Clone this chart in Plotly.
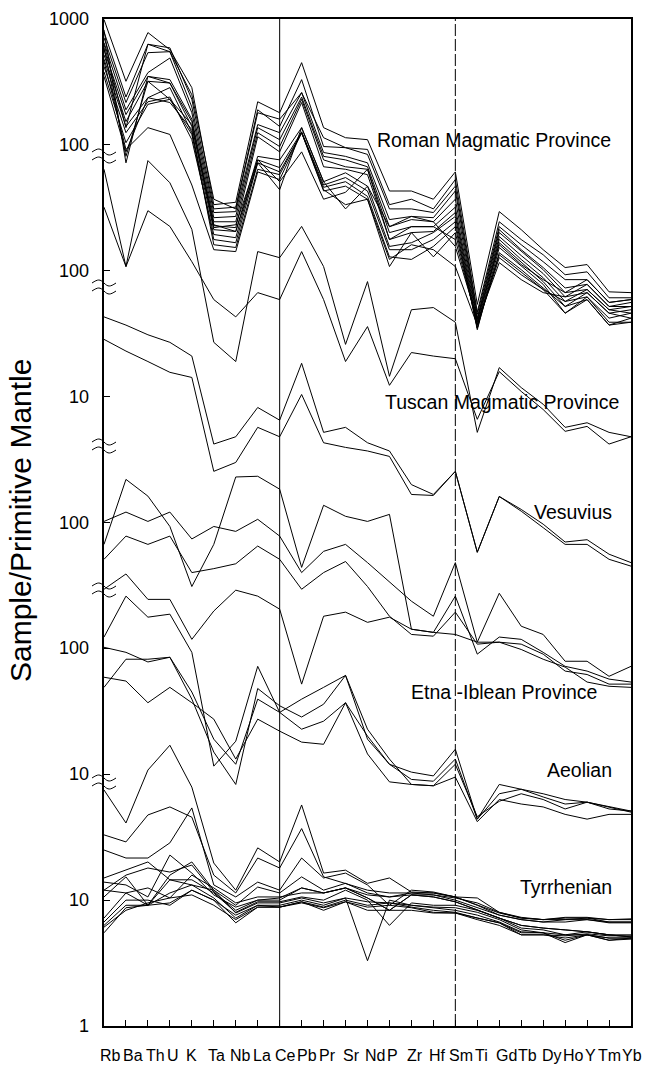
import plotly.graph_objects as go

elements = ["Rb", "Ba", "Th", "U", "K", "Ta", "Nb", "La", "Ce", "Pb", "Pr", "Sr", "Nd",
            "P", "Zr", "Hf", "Sm", "Ti", "Gd", "Tb", "Dy", "Ho", "Y", "Tm", "Yb"]

# sample / primitive mantle values, one list per sample
roman = [
    [990, 320, 780, 570, 285, 33.5, 35, 220, 180, 450, 137, 114, 110, 43, 43, 37, 61, 5.4, 29.5, 21.2, 14.7, 10.6, 11.2, 6.8, 6.7],
    [790, 240, 630, 590, 230, 31, 32, 190, 140, 330, 97, 95, 84, 31, 31, 29, 47, 4.5, 22.4, 16.1, 11.8, 8.5, 8.5, 5.6, 5.9],
    [710, 217, 540, 550, 200, 29, 29.5, 145, 125, 260, 87, 81, 72, 25.5, 27, 26.4, 43, 4.2, 21.2, 14.7, 10.6, 7.3, 7.8, 5.2, 5.6],
    [650, 190, 375, 490, 180, 26.4, 27, 137, 110, 240, 81, 76, 67, 22.4, 25.5, 24.5, 37, 4.1, 20.1, 14.2, 10.2, 6.7, 7.1, 4.9, 5.2],
    [570, 174, 350, 330, 160, 24.5, 24.5, 125, 97, 230, 76, 67, 64, 20.1, 22.4, 22.4, 32, 3.9, 18.7, 13.2, 9.5, 6.2, 6.7, 4.6, 4.9],
    [520, 153, 320, 310, 140, 22.8, 22, 116, 88, 217, 67, 64, 58, 17.7, 20.1, 20.5, 29, 3.7, 17.7, 12.3, 8.8, 5.7, 6.2, 4.2, 4.6],
    [480, 140, 237, 285, 125, 21.2, 20.5, 81, 76, 137, 51, 60, 47, 15.6, 16.7, 20.1, 27, 3.5, 16.7, 11.8, 8.2, 5.2, 5.9, 3.7, 4.2],
    [420, 125, 220, 240, 110, 19.4, 18.3, 76, 66, 127, 48, 55, 43, 14.7, 14.7, 17.7, 24.5, 3.4, 15.3, 11.0, 7.8, 4.6, 6.2, 3.9, 3.9],
    [380, 104, 210, 230, 121, 17.7, 16.7, 72, 61, 125, 46, 51, 39, 12.9, 12.3, 15.6, 22.4, 3.5, 13.9, 10.2, 7.3, 5.2, 6.7, 4.6, 4.2],
    [350, 88, 237, 217, 132, 16.1, 15.3, 64, 58, 125, 43, 47, 37, 10.8, 20.1, 12.9, 20.1, 3.7, 12.7, 9.3, 7.1, 5.7, 7.1, 4.9, 4.6],
    [590, 81, 320, 230, 145, 22, 23.2, 76, 51, 88, 37, 42, 64, 17.7, 22.4, 22.4, 17.7, 3.9, 11.6, 8.5, 6.7, 6.2, 7.8, 5.2, 5.2],
    [820, 72, 350, 310, 153, 23.2, 20.5, 72, 44, 137, 51, 31, 47, 22.4, 27, 24.5, 15.6, 4.1, 16.1, 11.2, 8.5, 6.7, 8.5, 5.6, 5.9],
    [460, 92, 137, 121, 48, 14.7, 14.2, 61, 53, 125, 44, 33.5, 37, 12.3, 16.1, 14.7, 10.8, 3.7, 13.4, 9.8, 7.1, 4.6, 5.9, 3.7, 3.9],
    [630, 137, 630, 550, 250, 37, 31, 180, 160, 260, 114, 95, 92, 33.5, 37, 31, 53, 4.7, 24.5, 17.7, 13.4, 9.3, 9.8, 6.1, 6.1],
]

tuscan = [
    [640, 108, 750, 500, 213, 27, 19, 142, 127, 225, 108, 26, 82, 14.5, 49, 51, 39, 5.2, 17, 11.8, 8.7, 5.7, 6.2, 5.2, 4.8],
    [320, 108, 300, 225, 118, 59, 43, 67, 59, 142, 59, 19, 36, 12.3, 22.4, 21, 20, 6.6, 15.8, 11, 7.9, 5.3, 5.8, 4.2, 4.8],
]

vesuvius = [
    [430, 370, 310, 270, 210, 42, 48, 82, 65, 184, 52, 57, 43, 37, 20, 16.7, 25.5, 5.8, 16.1, 12.7, 9.7, 7, 7.3, 5.6, 4.8],
    [285, 230, 190, 156, 142, 25.5, 30, 57, 48, 104, 43, 39.5, 37, 33.5, 16.7, 16.4, 25.5, 5.8, 16.1, 12.3, 9.1, 6.7, 6.7, 5.1, 4.5],
]

etna = [
    [102, 121, 102, 121, 74, 93, 85, 106, 78, 40, 59, 67, 48, 34, 23.7, 18, 48, 11.2, 27.4, 15, 12.9, 7.9, 7.9, 6, 7.2],
    [67, 220, 162, 93, 31, 67, 230, 233, 184, 44, 137, 112, 102, 116, 14.2, 13.4, 26, 9, 12.3, 11.8, 9.3, 7.2, 6.6, 5.7, 5.4],
    [51, 78, 67, 78, 40, 43, 47, 65, 51, 29.5, 40, 49, 31, 18, 12.9, 12.5, 19.4, 10.8, 11.2, 10.8, 9, 6.6, 6.2, 5.2, 5.2],
    [29.5, 39, 24.5, 24.5, 11.8, 19.8, 29, 26, 20.5, 5.2, 18, 19.4, 16.1, 17.7, 14.2, 13.4, 12.9, 11.2, 11.2, 9.8, 8.2, 7.1, 5.4, 5, 4.9],
]

aeolian = [
    [123, 260, 177, 187, 93, 11.6, 18.3, 72, 31, 22.8, 26.4, 37, 20.1, 12.0, 10.4, 9.7, 15.8, 4.4, 8.3, 7.6, 6.6, 5.8, 6.0, 5.5, 5.1],
    [102, 93, 78, 85, 39.5, 15, 8.3, 48, 35, 28.5, 36, 61, 22.8, 13.2, 8.3, 8.1, 12, 4.6, 6.1, 7, 6.3, 5.3, 6, 5.5, 5],
    [59, 55, 37, 49, 37, 27.4, 13.2, 27.4, 22, 18, 17.3, 37, 14.5, 8.7, 8.3, 8.1, 9.5, 4.2, 6.3, 5.8, 5.5, 4.8, 4.4, 4.8, 4.8],
    [49, 82, 82, 85, 45, 19, 12, 39.5, 31, 39.5, 49, 61, 19, 12, 9.1, 8.8, 13.2, 4.4, 7, 7.6, 7, 6.3, 6, 5.3, 5.1],
]

tyrrhenian = [
    [75, 41, 108, 170, 79, 19.7, 12, 26, 20.1, 57, 16.4, 17.3, 13.6, 15, 11.6, 11.4, 10.6, 10.4, 8, 7.3, 7, 7.2, 7.2, 7, 7],
    [33, 29, 47.5, 55, 45.6, 15.8, 11.4, 21.6, 18, 37, 15.3, 13.6, 12, 11.4, 11.4, 11, 10.4, 9.5, 8, 7.2, 7, 7, 7.2, 6.7, 6.7],
    [25, 21.6, 21.6, 28.5, 54, 13.2, 10.6, 13.9, 12, 21.6, 15, 16.4, 13.2, 9.1, 12, 11.6, 10.6, 9.1, 7.6, 7, 6.7, 6.7, 7, 6.6, 6.6],
    [15, 17.3, 20.1, 14.5, 13.2, 12, 9.1, 12.7, 11.4, 15.3, 12, 13.6, 11.4, 10.6, 11, 11, 10, 8.7, 7.6, 7, 6.7, 7, 7, 6.7, 6.7],
    [13.9, 13.2, 10.6, 22.8, 16.4, 11, 8.8, 10, 10.4, 12.5, 11.4, 12.5, 10.4, 8.3, 11, 10.6, 9.7, 8.3, 7.2, 6.3, 6, 5.8, 5.6, 5.3, 5.1],
    [12, 15.8, 18, 16.7, 19, 11.6, 8.3, 10, 10, 12.5, 11.4, 12.5, 10.4, 8.3, 11, 10.6, 9.7, 8.3, 7.2, 6.3, 6, 5.8, 5.6, 5.3, 5.1],
    [10.6, 15.3, 9.1, 14.5, 14.5, 11.4, 8, 9.7, 9.7, 10.6, 10, 12, 10, 6.3, 9.5, 9.1, 9.1, 8.3, 7.2, 6, 5.8, 5.3, 5.3, 5, 5],
    [7.2, 11.4, 9.1, 15.8, 20.1, 12, 7.9, 9.5, 9.5, 10.4, 9.5, 10.4, 3.3, 10, 9.1, 8.8, 8.7, 8, 7, 5.8, 5.5, 4.8, 5.3, 4.8, 5],
    [6.7, 10, 10, 9.1, 12, 10, 7.6, 9.1, 9.1, 10, 9.1, 10.4, 9.7, 9.5, 9.1, 8.7, 8.3, 7.6, 6.7, 5.6, 5.5, 4.6, 5.3, 4.8, 4.9],
    [6.3, 9.1, 9.1, 11.4, 13.2, 10.4, 7.2, 9.1, 8.8, 9.7, 8.8, 10, 9.1, 9.5, 8.8, 8.3, 8, 7.2, 6.6, 5.3, 5.3, 5, 5.3, 5, 5],
    [6.1, 8.3, 9.5, 10.4, 11, 9.1, 7, 8.8, 8.8, 9.5, 8.7, 9.7, 8.8, 9.1, 8.7, 8, 7.9, 7.2, 6.6, 5.5, 5.5, 5.3, 5.6, 5.3, 5.3],
    [5.5, 8.7, 9.1, 9.5, 12, 10, 6.6, 8.8, 8.8, 9.7, 8.3, 9.7, 8.3, 8.3, 8.3, 7.9, 7.9, 7, 6.3, 5.3, 5.3, 5.2, 5.4, 5.2, 5.2],
    [12, 11.4, 12.5, 10.4, 15.8, 12.5, 9.5, 10.6, 10.6, 11.4, 11.4, 12.5, 11, 10.6, 11.4, 11.4, 10.6, 9.1, 7.9, 7.2, 7, 7.3, 7.3, 7, 7.1],
]

# each group is shifted up by one decade on the stacked log axis
group_names = ["Roman Magmatic Province", "Tuscan Magmatic Province", "Vesuvius",
               "Etna -Iblean Province", "Aeolian", "Tyrrhenian"]
group_data = [roman, tuscan, vesuvius, etna, aeolian, tyrrhenian]
group_offset = [1e5, 1e4, 1e3, 1e2, 1e1, 1]

# axis tick labels for decades 10^0 ... 10^8 of the stacked axis
ytick_text = ["1", "10", "10", "100", "100", "10", "100", "100", "1000"]

FONT = "Liberation Sans, Arial, Helvetica, sans-serif"
W, H = 647, 1067
L, R, T, B = 104, 16, 19, 41
PW, PH = W - L - R, H - T - B

def py2paper(py):
    return (H - B - py) / PH

def px2paper(px):
    return (px - L) / PW

fig = go.Figure()
xs = list(range(len(elements)))
for lines, off in zip(group_data, group_offset):
    for vals in lines:
        fig.add_trace(go.Scatter(
            x=xs, y=[v * off for v in vals], mode="lines",
            line=dict(color="black", width=1), showlegend=False, hoverinfo="skip"))

annotations = []
for k, t in enumerate(ytick_text):
    annotations.append(dict(x=0, y=k / 8, xref="paper", yref="paper", text=t,
                            showarrow=False, xanchor="right", yanchor="middle",
                            xshift=-13, font=dict(family=FONT, size=18, color="black")))
label_shift = [6, 7, 8, 3, 0, 3, 5, 4, 6, 5, 4, 6, 7, 3, 4, 4, 6, 4, 7, 6, 9, 8, 3, 0, 1]
for i, (el, sh) in enumerate(zip(elements, label_shift)):
    annotations.append(dict(x=i, y=py2paper(1055), xref="x", yref="paper", text=el,
                            showarrow=False, xanchor="center", yanchor="middle",
                            xshift=sh, font=dict(family=FONT, size=16, color="black")))
label_pos = [(613, 140), (621, 402), (614, 512), (599, 692), (614, 770), (614, 887)]
for name, (px, py) in zip(group_names, label_pos):
    annotations.append(dict(x=px2paper(px), y=py2paper(py), xref="paper", yref="paper",
                            text=name, showarrow=False, xanchor="right", yanchor="middle",
                            font=dict(family=FONT, size=19.5, color="black")))
annotations.append(dict(x=px2paper(20), y=py2paper(521), xref="paper", yref="paper",
                        text="Sample/Primitive Mantle", textangle=-90, showarrow=False,
                        xanchor="center", yanchor="middle",
                        font=dict(family=FONT, size=30, color="black")))

shapes = []
shapes.append(dict(type="line", xref="x", yref="paper", x0=8, x1=8, y0=0, y1=1,
                   line=dict(color="black", width=1)))
shapes.append(dict(type="line", xref="x", yref="paper", x0=16, x1=16, y0=0, y1=1,
                   line=dict(color="black", width=1, dash="12px,3px")))
for py in [156, 287, 446, 590, 782]:
    for dy in (-4, 4):
        path = "M -12,{a} C -6,{b} -4,{b} 0,{a} C 4,{c} 6,{c} 12,{a}".format(
            a=dy, b=dy + 4, c=dy - 4)
        shapes.append(dict(type="path", xref="paper", yref="paper",
                           xsizemode="pixel", ysizemode="pixel",
                           xanchor=0, yanchor=py2paper(py), path=path,
                           line=dict(color="black", width=1)))

fig.update_layout(
    width=W, height=H, margin=dict(l=L, r=R, t=T, b=B, autoexpand=False),
    paper_bgcolor="white", plot_bgcolor="white",
    font=dict(family=FONT, color="black"),
    annotations=annotations, shapes=shapes, showlegend=False,
    xaxis=dict(range=[0, 24], showgrid=False, zeroline=False, showline=True,
               linecolor="black", linewidth=1.8, mirror=True,
               ticks="inside", ticklen=6, tickcolor="black", tickwidth=1,
               tickvals=xs, showticklabels=False),
    yaxis=dict(type="log", range=[0, 8], showgrid=False, zeroline=False, showline=True,
               linecolor="black", linewidth=1.8, mirror=True,
               ticks="inside", ticklen=6, tickcolor="black", tickwidth=1,
               tickvals=[10 ** k for k in range(9)], showticklabels=False),
)

fig.write_html("out.html")
